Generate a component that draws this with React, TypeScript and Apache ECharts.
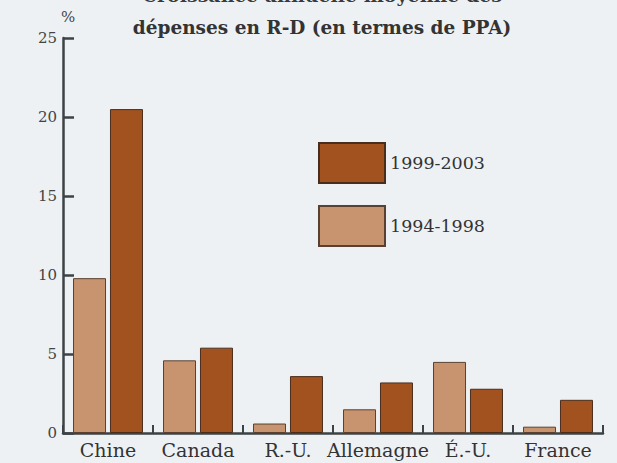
import React, { useEffect, useRef } from "react";
import * as echarts from "echarts";

const categories = ["Chine", "Canada", "R.-U.", "Allemagne", "É.-U.", "France"];
const series1994 = [9.8, 4.6, 0.6, 1.5, 4.5, 0.4];
const series1999 = [20.5, 5.4, 3.6, 3.2, 2.8, 2.1];
const legendNames = ["1999-2003", "1994-1998"];
const yTicks = { min: 0, max: 25, interval: 5 };

const FONT = "'DejaVu Serif', 'Liberation Serif', serif";

export default function App() {
  const ref = useRef<HTMLDivElement>(null);
  useEffect(() => {
    if (!ref.current) return;
    const chart = echarts.init(ref.current, undefined, { renderer: "svg" });
    chart.setOption({
      animation: false,
      backgroundColor: "#eef1f3",
      textStyle: { fontFamily: FONT },
      graphic: [
        {
          type: "text",
          x: 322,
          y: -15,
          style: {
            text: "Croissance annuelle moyenne des",
            font: `bold 19px ${FONT}`,
            fill: "#3a3a3a",
            textAlign: "center",
          },
        },
        {
          type: "text",
          x: 322,
          y: 18,
          style: {
            text: "dépenses en R-D (en termes de PPA)",
            font: `bold 18.5px ${FONT}`,
            fill: "#333",
            textAlign: "center",
          },
        },
        {
          type: "text",
          x: 68,
          y: 9,
          style: { text: "%", font: `15px ${FONT}`, fill: "#444", textAlign: "center" },
        },
      ],
      legend: {
        data: legendNames,
        orient: "vertical",
        left: 318,
        top: 142,
        padding: 0,
        icon: "rect",
        itemWidth: 66,
        itemHeight: 40,
        itemGap: 21,
        textStyle: { fontSize: 17.5, color: "#333", fontFamily: FONT, padding: [22, 0, 0, 0] },
        selectedMode: false,
      },
      grid: { left: 63, right: 14, top: 38, bottom: 30, containLabel: false },
      xAxis: {
        type: "category",
        data: categories,
        axisLine: { lineStyle: { color: "#3d4246", width: 2.5 } },
        axisTick: { show: true, inside: true, length: 8, lineStyle: { color: "#3d4246", width: 2 } },
        axisLabel: { interval: 0, fontSize: 19, color: "#333", margin: 7, fontFamily: FONT },
      },
      yAxis: {
        type: "value",
        min: yTicks.min,
        max: yTicks.max,
        interval: yTicks.interval,
        splitLine: { show: false },
        axisLine: { show: true, lineStyle: { color: "#3d4246", width: 2.5 } },
        axisTick: { show: true, inside: true, length: 11, lineStyle: { color: "#3d4246", width: 2.5 } },
        axisLabel: { fontSize: 15, color: "#444", margin: 6, fontFamily: FONT },
      },
      series: [
        {
          name: "1994-1998",
          type: "bar",
          data: series1994,
          barWidth: 33,
          barGap: "12%",
          itemStyle: { color: "#c8946f", borderColor: "#5a4030", borderWidth: 1 },
        },
        {
          name: "1999-2003",
          type: "bar",
          data: series1999,
          barWidth: 33,
          itemStyle: { color: "#a1521f", borderColor: "#4a2e1c", borderWidth: 1 },
        },
      ],
    });
    return () => chart.dispose();
  }, []);
  return (
    <div
      ref={ref}
      style={{ position: "fixed", left: 0, top: 0, width: 617, height: 463 }}
    />
  );
}
